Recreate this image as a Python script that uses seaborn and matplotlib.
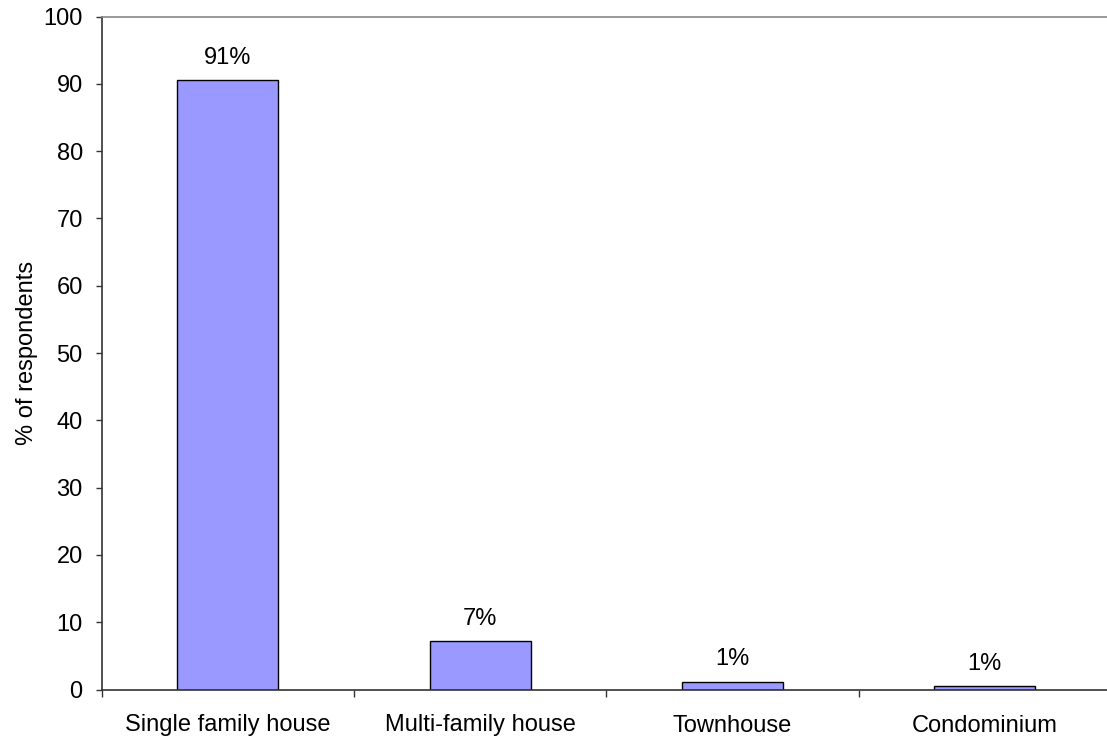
import matplotlib
matplotlib.use("Agg")
import matplotlib.pyplot as plt
import seaborn as sns
import pandas as pd
import numpy as np

categories = ["Single family house", "Multi-family house", "Townhouse", "Condominium"]
values = [90.5, 7.2, 1.15, 0.5]
labels = ["91%", "7%", "1%", "1%"]

sns.set_theme(style="white")
plt.rcParams['font.family'] = ['Liberation Sans', 'DejaVu Sans']
plt.rcParams['text.color'] = 'black'
plt.rcParams['axes.labelcolor'] = 'black'
plt.rcParams['xtick.color'] = 'black'
plt.rcParams['ytick.color'] = 'black'

FS = 17

df = pd.DataFrame({"cat": categories, "val": values})

fig = plt.figure(figsize=(11.07, 7.44), dpi=100)
ax = fig.add_axes([101.5/1107, 1 - 689.5/744, (1111 - 101.5)/1107, (689.5 - 16.5)/744])
sns.barplot(data=df, x="cat", y="val", color="#9999FF", width=0.4, edgecolor="black",
            linewidth=1.0, saturation=1, ax=ax)
for p, lab in zip(ax.patches, labels):
    ax.text(p.get_x() + p.get_width()/2, p.get_height() + 1.7, lab, ha="center", va="bottom",
            fontsize=FS, color="black")

ax.set_ylim(0, 100)
ax.set_xlim(-0.5, 3.5)
ax.set_yticks(range(0, 101, 10))
ax.set_xticks([i - 0.5 for i in range(5)], minor=True)
ax.set_xticks(range(4))
ax.set_xticklabels(categories, fontsize=FS)
ax.tick_params(axis="x", which="major", bottom=True, length=0, pad=18)
ax.tick_params(axis="x", which="minor", bottom=True, length=5, width=1, color="#333333", direction="out")
ax.tick_params(axis="y", left=True, length=4.5, width=1, color="#333333", direction="out", labelsize=FS, pad=9)
ax.set_xlabel("")
ax.set_ylabel("% of respondents", fontsize=FS, labelpad=4)
for s in ["left", "bottom"]:
    ax.spines[s].set_color("#333333")
    ax.spines[s].set_linewidth(1.2)
ax.spines["top"].set_color("#888888")
ax.spines["top"].set_linewidth(1.2)
ax.spines["right"].set_visible(False)
fig.savefig("out.png", dpi=100)
